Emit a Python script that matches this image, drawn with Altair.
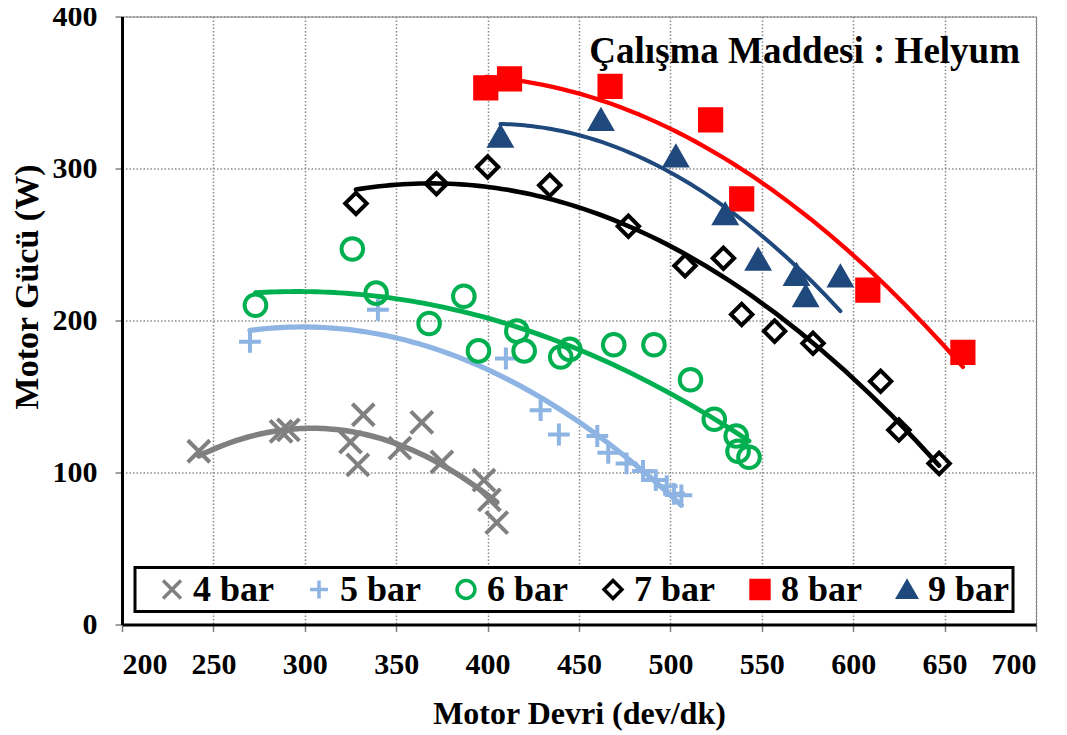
import altair as alt
import pandas as pd

# ---- data ----
series_names = ["4 bar", "5 bar", "6 bar", "7 bar", "8 bar", "9 bar"]

x4 = [242, 287, 291, 325, 329, 332, 352, 364, 375, 398, 401, 405]
y4 = [114, 127, 128, 120, 105, 138, 116, 133, 107, 95, 82, 67]

x5 = [270, 340, 410, 429, 439, 460, 466, 476, 485, 492, 498, 502, 506]
y5 = [186, 207, 175, 141, 125, 124, 113, 106, 101, 95, 91, 86, 85]

x6 = [273, 326, 339, 368, 387, 395, 416, 420, 440, 445, 469, 491, 511, 524, 536, 537, 543]
y6 = [210, 247, 218, 198, 216, 180, 193, 180, 176, 181, 184, 184, 161, 135, 124, 114, 110]

x7 = [328, 372, 400, 434, 477, 508, 529, 539, 557, 578, 615, 625, 647]
y7 = [277, 290, 301, 289, 262, 236, 241, 204, 193, 185, 160, 128, 106]

x8 = [399, 412, 467, 522, 539, 608, 660]
y8 = [353, 359, 354, 332, 280, 220, 179]

x9 = [407, 462, 503, 530, 548, 569, 574, 593]
y9 = [321, 332, 308, 270, 240, 230, 216, 229]

x_ticks = [200, 250, 300, 350, 400, 450, 500, 550, 600, 650, 700]
y_ticks = [0, 100, 200, 300, 400]

title_text = "Çalışma Maddesi : Helyum"
x_title = "Motor Devri (dev/dk)"
y_title = "Motor Gücü (W)"

# ---- styling ----
stroke_colors = ["#808080", "#8DB4E2", "#00B050", "#000000", "#FF0000", "#1F497D"]
fill_colors = ["transparent", "transparent", "transparent", "transparent", "#FF0000", "#1F497D"]
shapes = ["M-1,-1L1,1M-1,1L1,-1", "M0,-1L0,1M-1,0L1,0", "circle", "diamond", "square", "triangle-up"]
sizes = [484, 441, 441, 484, 289, 420]
stroke_widths = [4, 4, 3.5, 3.2, 1, 1]
line_widths = [5.5, 4, 4, 4, 4, 4]

FONT = "Liberation Serif"

rows = []
for name, xs, ys in zip(series_names, [x4, x5, x6, x7, x8, x9], [y4, y5, y6, y7, y8, y9]):
    for a, b in zip(xs, ys):
        rows.append({"series": name, "x": a, "y": b})
df = pd.DataFrame(rows)

xscale = alt.Scale(domain=[200, 700], nice=False, zero=False)
yscale = alt.Scale(domain=[0, 400], nice=False)

xaxis = alt.Axis(values=x_ticks, title=x_title, format="d")
yaxis = alt.Axis(values=y_ticks, title=y_title, format="d",
                 titleX=-95, titleY=270, titleBaseline="middle", titleAngle=270)

base = alt.Chart(df)

# scales without a legend get data-derived (sorted) domains so that they are
# not merged with the visible legend
lines = base.transform_regression(
    "x", "y", groupby=["series"], method="poly", order=2
).mark_line(strokeCap="round").encode(
    x=alt.X("x:Q", scale=xscale, axis=xaxis),
    y=alt.Y("y:Q", scale=yscale, axis=yaxis),
    color=alt.Color("series:N", scale=alt.Scale(range=stroke_colors), legend=None),
    strokeWidth=alt.StrokeWidth("series:N", scale=alt.Scale(range=line_widths), legend=None),
)

legend = alt.Legend(
    orient="none", legendX=13, legendY=551, direction="horizontal", columns=6,
    title="\u2002", titleOrient="left", titleFontSize=10, titlePadding=15,
    labelFont=FONT, labelFontSize=36, labelFontWeight="bold", labelColor="black",
    symbolSize=320, symbolStrokeWidth=3.5, labelOffset=3,
    columnPadding=27, padding=4, strokeColor="black", fillColor="white",
)

points = base.mark_point(opacity=1).encode(
    x=alt.X("x:Q", scale=xscale),
    y=alt.Y("y:Q", scale=yscale),
    shape=alt.Shape("series:N", scale=alt.Scale(domain=series_names, range=shapes), legend=legend),
    stroke=alt.Stroke("series:N", scale=alt.Scale(domain=series_names, range=stroke_colors), legend=legend),
    fill=alt.Fill("series:N", scale=alt.Scale(domain=series_names, range=fill_colors), legend=legend),
    size=alt.Size("series:N", scale=alt.Scale(range=sizes), legend=None),
    strokeWidth=alt.StrokeWidth("series:N", scale=alt.Scale(range=stroke_widths), legend=None),
)

title_layer = alt.Chart(pd.DataFrame({"t": [title_text]})).mark_text(
    align="right", baseline="alphabetic", font=FONT, fontSize=37, fontWeight="bold", color="black"
).encode(text="t:N", x=alt.value(898), y=alt.value(46))

chart = alt.layer(lines, points, title_layer).resolve_scale(
    strokeWidth="independent"
).properties(
    width=914, height=608,
    autosize=alt.AutoSizeParams(type="none"),
    padding={"left": 114, "top": 8.5, "right": 10, "bottom": 110},
).configure_view(
    stroke="#808080", strokeWidth=1
).configure_legend(
    strokeWidth=3
).configure_axis(
    labelFont=FONT, labelFontSize=30, labelFontWeight="bold", labelColor="black",
    titleFont=FONT, titleFontSize=32, titleFontWeight="bold", titleColor="black",
    domainColor="black", domainWidth=3,
    tickColor="#808080", tickSize=7, tickWidth=1.5,
    gridColor="#8a8a8a", gridDash=[1.5, 2], gridWidth=1.5,
).configure_axisX(
    labelPadding=18, titlePadding=19
).configure_axisY(
    labelPadding=18, titleFontSize=34
)

chart.save("out.html", embed_options={"renderer": "svg", "actions": False})
